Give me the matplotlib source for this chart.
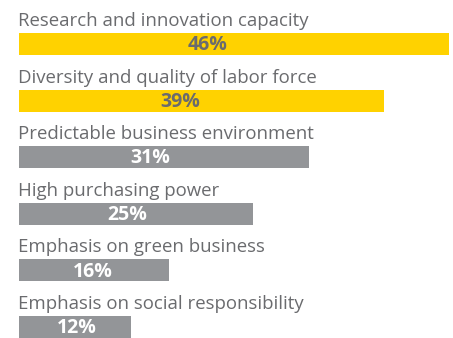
import matplotlib
matplotlib.use("Agg")
import matplotlib.pyplot as plt

categories = [
    "Research and innovation capacity",
    "Diversity and quality of labor force",
    "Predictable business environment",
    "High purchasing power",
    "Emphasis on green business",
    "Emphasis on social responsibility",
]
values = [46, 39, 31, 25, 16, 12]
highlight = [True, True, False, False, False, False]

YELLOW = "#FFD200"
GREY_BAR = "#939598"
TEXT = "#6a6b6e"

fig = plt.figure(figsize=(4.53, 3.38), dpi=100)
ax = fig.add_axes([0, 0, 1, 1])
ax.set_xlim(-19 / 9.35, (453 - 19) / 9.35)
row = 56.6
ax.set_ylim((338 - 44) / row, -44 / row)
ax.axis("off")

bar_h = 22 / row
for i, (cat, val, hi) in enumerate(zip(categories, values, highlight)):
    ax.barh(i, val, height=bar_h, left=0, color=YELLOW if hi else GREY_BAR, linewidth=0)
    ax.text(-0.1, i - 18 / row, cat, ha="left", va="baseline",
            fontsize=13.4, color=TEXT, family="Open Sans")
    ax.text(val * 0.41 + 1.3, i + 0.02, f"{val}%", ha="center", va="center",
            fontsize=14, fontweight="bold", family="Open Sans",
            color=TEXT if hi else "white")

fig.savefig("out.png", dpi=100)
